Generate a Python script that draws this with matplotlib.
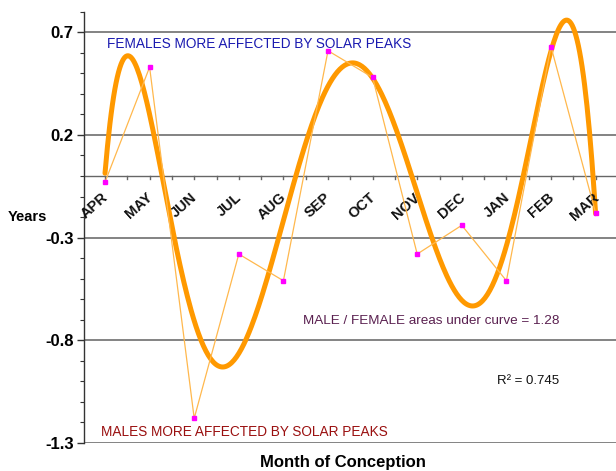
import numpy as np
import matplotlib
matplotlib.use("Agg")
import matplotlib.pyplot as plt

# Month of conception (April first) and mean difference in years
months = ["APR", "MAY", "JUN", "JUL", "AUG", "SEP", "OCT", "NOV", "DEC", "JAN", "FEB", "MAR"]
values = [-0.03, 0.53, -1.18, -0.38, -0.51, 0.61, 0.48, -0.38, -0.24, -0.51, 0.63, -0.18]
y_ticks = [0.7, 0.2, -0.3, -0.8, -1.3]
r_squared_label = "R² = 0.745"
area_ratio_label = "MALE / FEMALE areas under curve = 1.28"

plt.rcParams["font.family"] = ["Liberation Sans", "DejaVu Sans"]

W, H = 616, 471
fig = plt.figure(figsize=(W / 100, H / 100), dpi=100)
ax = fig.add_axes([83.5 / W, 1 - 443 / H, 1 - 83.5 / W, (443 - 11.7) / H])

x = np.arange(1, len(months) + 1)
ax.set_xlim(1 - 21.5 / 44.6, 1 + 511 / 44.6)
ax.set_ylim(-1.3, 0.8)

# horizontal gridlines at the major ticks
for yv in y_ticks:
    ax.axhline(yv, color="#7a7a7a", lw=1.3, zorder=1)

# zero line carrying the month ticks
ax.axhline(0, color="#666666", lw=1.0, zorder=1)
for xt in np.arange(1, 12.01, 0.5):
    ax.plot([xt, xt], [0, -0.014], color="#666666", lw=1.0, zorder=1, clip_on=False)

# sixth-order polynomial trendline
coef = np.polyfit(x, values, 6)
xf = np.linspace(1, 12, 400)
ax.plot(xf, np.polyval(coef, xf), color="#ff9900", lw=3.6, zorder=3,
        solid_capstyle="round")

# raw monthly values
ax.plot(x, values, color="#ffb84d", lw=0.9, zorder=4)
ax.plot(x, values, ls="none", marker="s", ms=3.2, color="#ff00ff", zorder=5)

# axes styling
for s in ["top", "right", "bottom"]:
    ax.spines[s].set_visible(False)
ax.spines["left"].set_color("#333333")
ax.spines["left"].set_linewidth(1.0)
ax.set_yticks(y_ticks)
ax.set_yticklabels([f"{v:.1f}" for v in y_ticks], fontsize=12, fontweight="bold")
ax.set_yticks(np.arange(-1.3, 0.81, 0.1), minor=True)
ax.tick_params(axis="y", which="major", length=5, width=1.0, color="#333333", pad=2)
ax.tick_params(axis="y", which="minor", length=3, width=0.8, color="#333333")
ax.set_xticks([])

for xi, m in zip(x, months):
    ax.text(xi - 0.08, -0.07, m, rotation=42, rotation_mode="anchor",
            ha="right", va="top", fontsize=10.5, fontweight="bold", color="#111111")

ax.text((8 - 83.5) / 532.5, -0.2, "Years", transform=ax.get_yaxis_transform(),
        fontsize=10.5, fontweight="bold", ha="left", va="center")
fig.text(343 / W, 1 - 462 / H, "Month of Conception", fontsize=12, fontweight="bold",
         ha="center", va="center")

ax.text(1.05, 0.645, "FEMALES MORE AFFECTED BY SOLAR PEAKS", color="#1a1ab0",
        fontsize=9.8, ha="left", va="center")
ax.text(0.9, -1.245, "MALES MORE AFFECTED BY SOLAR PEAKS", color="#9a1010",
        fontsize=9.8, ha="left", va="center")
ax.text(5.45, -0.705, area_ratio_label, color="#5a2050", fontsize=9.7,
        ha="left", va="center")
ax.text(9.8, -1.0, r_squared_label, color="#111111", fontsize=9.5,
        ha="left", va="center")

fig.savefig("out.png", dpi=100)
